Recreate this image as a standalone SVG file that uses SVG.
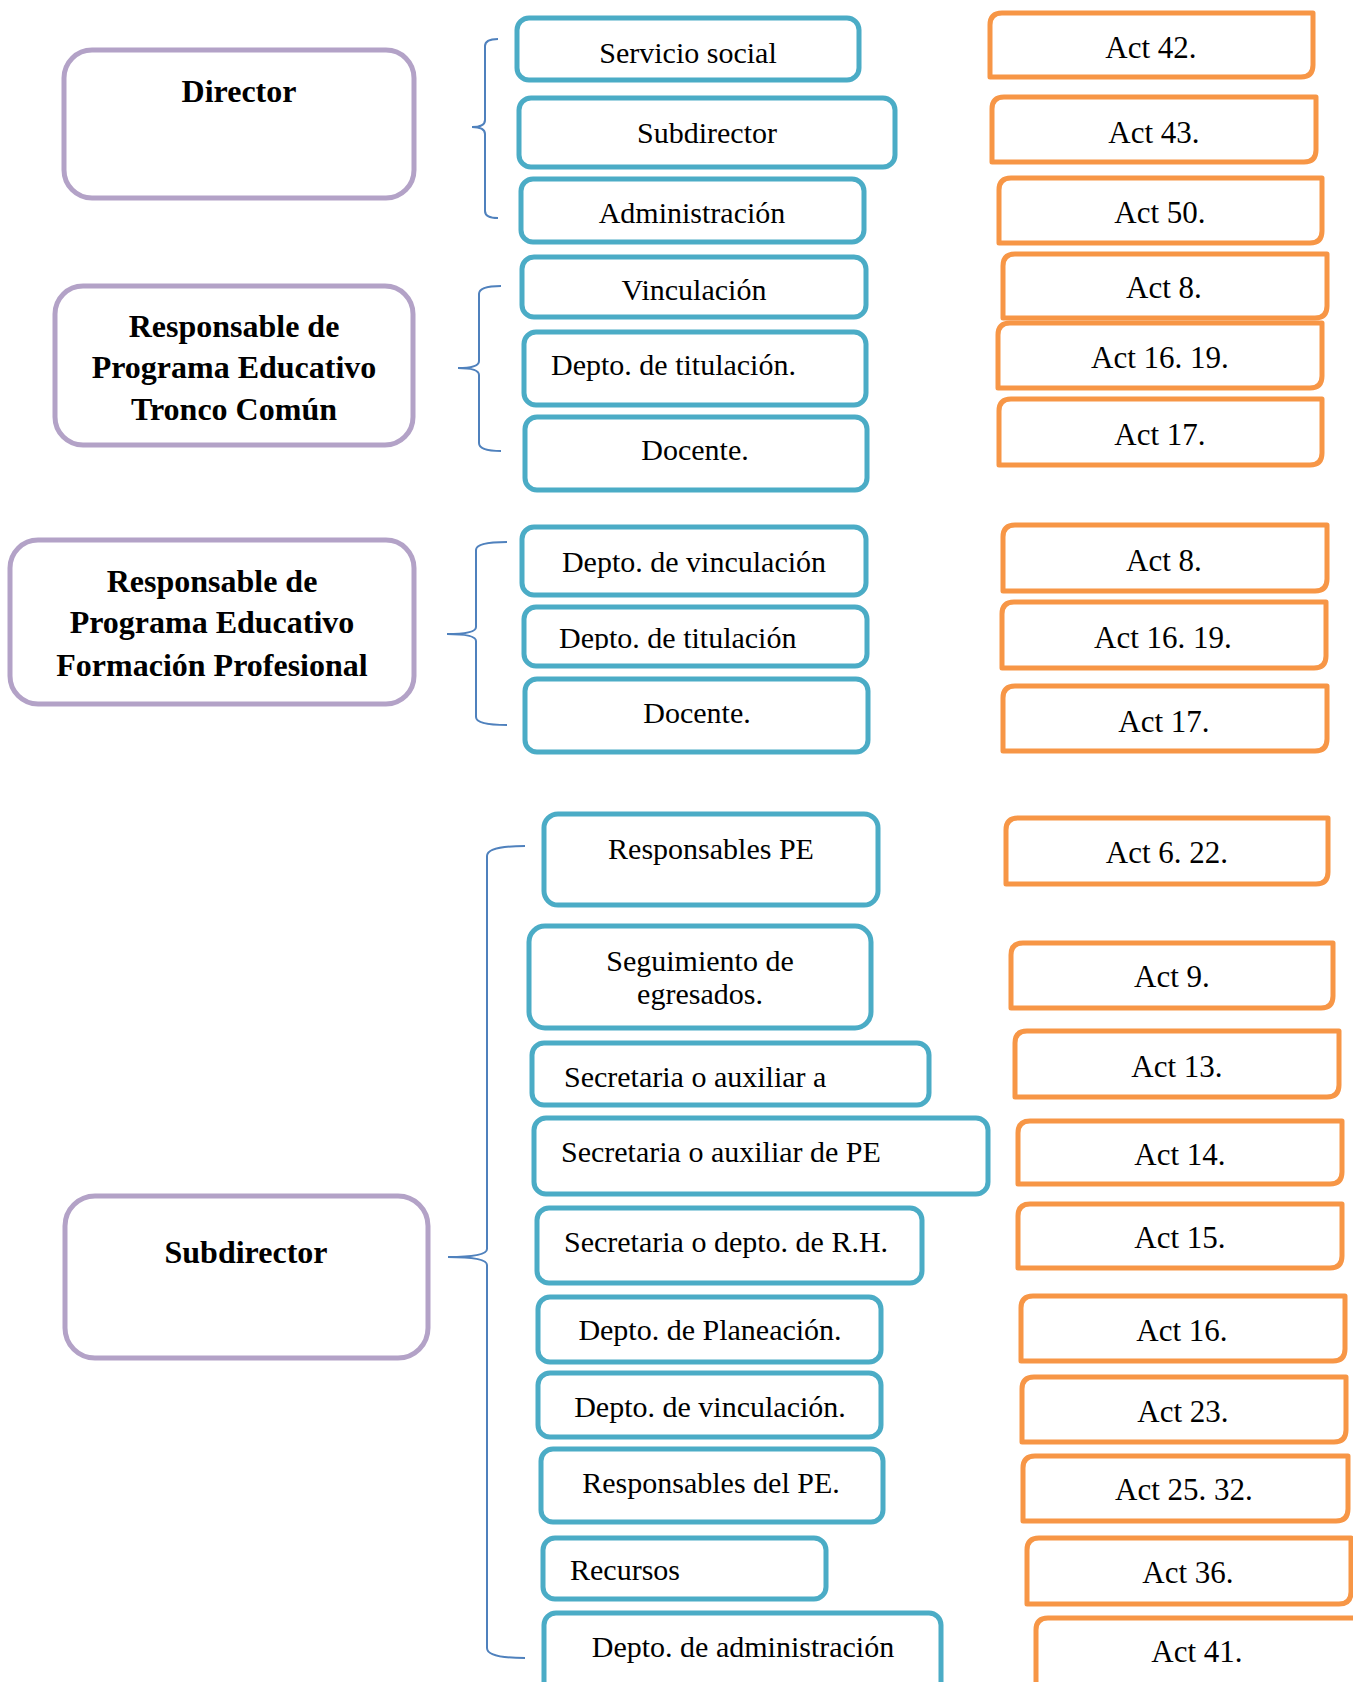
<svg xmlns="http://www.w3.org/2000/svg" width="1353" height="1682" viewBox="0 0 1353 1682">
  <defs>
    <style>
      .role { fill: #fff; stroke: #B3A2C7; stroke-width: 5; }
      .unit { fill: #fff; stroke: #4BACC6; stroke-width: 5; }
      .act { fill: #fff; stroke: #F79646; stroke-width: 5; stroke-linejoin: round; }
      .brace { fill: none; stroke: #4F81BD; stroke-width: 2; }
      .rt { font-family: "Liberation Serif", "Times New Roman", serif; font-weight: bold; font-size: 32px; fill: #000; text-anchor: middle; }
      .ut { font-family: "Liberation Serif", "Times New Roman", serif; font-size: 30px; fill: #000; }
      .at { font-family: "Liberation Serif", "Times New Roman", serif; font-size: 31px; fill: #000; text-anchor: middle; }
      .c { text-anchor: middle; }
    </style>
    <clipPath id="clip-titulacion2">
      <rect x="524" y="607" width="343" height="43"/>
    </clipPath>
  </defs>

  <rect width="1353" height="1682" fill="#fff"/>

  <!-- Braces linking each role to its units -->
  <g id="connectors">
    <path class="brace" d="M498,39 Q485,39 485,46 L485,120 Q485,127 472,127 Q485,127 485,134 L485,211 Q485,218 498,218"/>
    <path class="brace" d="M501,286 Q479,286 479,294 L479,361 Q479,368 458,368 Q479,368 479,375 L479,443 Q479,451 501,451"/>
    <path class="brace" d="M507,542 Q476,542 476,550 L476,627 Q476,634 447,634 Q476,634 476,641 L476,717 Q476,725 507,725"/>
    <path class="brace" d="M525,846 Q487,846 487,856 L487,1249 Q487,1257 448,1257 Q487,1257 487,1265 L487,1648 Q487,1658 525,1658"/>
  </g>

  <!-- Roles -->
  <g id="director">
    <rect class="role" x="64" y="50" width="350" height="148" rx="28"/>
    <text class="rt" x="239" y="102">Director</text>
  </g>
  <g id="responsable-tronco-comun">
    <rect class="role" x="55" y="286" width="358" height="159" rx="28"/>
    <text class="rt" x="234" y="337">Responsable de</text>
    <text class="rt" x="234" y="378">Programa Educativo</text>
    <text class="rt" x="234" y="420">Tronco Común</text>
  </g>
  <g id="responsable-formacion-profesional">
    <rect class="role" x="10" y="540" width="404" height="164" rx="28"/>
    <text class="rt" x="212" y="592">Responsable de</text>
    <text class="rt" x="212" y="633">Programa Educativo</text>
    <text class="rt" x="212" y="676">Formación Profesional</text>
  </g>
  <g id="subdirector">
    <rect class="role" x="65" y="1196" width="363" height="162" rx="30"/>
    <text class="rt" x="246" y="1263">Subdirector</text>
  </g>

  <!-- Units -->
  <g id="servicio-social">
    <rect class="unit" x="517" y="18" width="342" height="62" rx="12"/>
    <text class="ut c" x="688" y="63">Servicio social</text>
  </g>
  <g id="subdirector-unit">
    <rect class="unit" x="519" y="98" width="376" height="69" rx="12"/>
    <text class="ut c" x="707" y="143">Subdirector</text>
  </g>
  <g id="administracion">
    <rect class="unit" x="521" y="179" width="343" height="63" rx="12"/>
    <text class="ut c" x="692" y="223">Administración</text>
  </g>
  <g id="vinculacion">
    <rect class="unit" x="522" y="257" width="344" height="60" rx="12"/>
    <text class="ut c" x="694" y="300">Vinculación</text>
  </g>
  <g id="titulacion-1">
    <rect class="unit" x="524" y="332" width="342" height="73" rx="12"/>
    <text class="ut" x="551" y="375">Depto. de titulación.</text>
  </g>
  <g id="docente-1">
    <rect class="unit" x="525" y="417" width="342" height="73" rx="12"/>
    <text class="ut c" x="695" y="460">Docente.</text>
  </g>
  <g id="vinculacion-2">
    <rect class="unit" x="522" y="527" width="344" height="68" rx="12"/>
    <text class="ut c" x="694" y="572">Depto. de vinculación</text>
  </g>
  <g id="titulacion-2">
    <rect class="unit" x="524" y="607" width="343" height="59" rx="12"/>
    <text class="ut" x="559" y="648" clip-path="url(#clip-titulacion2)">Depto. de titulación</text>
  </g>
  <g id="docente-2">
    <rect class="unit" x="525" y="679" width="343" height="73" rx="12"/>
    <text class="ut c" x="697" y="723">Docente.</text>
  </g>
  <g id="responsables-pe">
    <rect class="unit" x="544" y="814" width="334" height="91" rx="14"/>
    <text class="ut c" x="711" y="859">Responsables PE</text>
  </g>
  <g id="seguimiento-egresados">
    <rect class="unit" x="529" y="926" width="342" height="102" rx="16"/>
    <text class="ut c" x="700" y="971">Seguimiento de</text>
    <text class="ut c" x="700" y="1004">egresados.</text>
  </g>
  <g id="secretaria-auxiliar-a">
    <rect class="unit" x="532" y="1043" width="397" height="62" rx="12"/>
    <text class="ut" x="564" y="1087">Secretaria o auxiliar a</text>
  </g>
  <g id="secretaria-auxiliar-pe">
    <rect class="unit" x="534" y="1118" width="454" height="76" rx="12"/>
    <text class="ut" x="561" y="1162">Secretaria o auxiliar de PE</text>
  </g>
  <g id="secretaria-rh">
    <rect class="unit" x="537" y="1208" width="385" height="75" rx="12"/>
    <text class="ut" x="564" y="1252">Secretaria o depto. de R.H.</text>
  </g>
  <g id="planeacion">
    <rect class="unit" x="538" y="1297" width="343" height="65" rx="12"/>
    <text class="ut c" x="710" y="1340">Depto. de Planeación.</text>
  </g>
  <g id="vinculacion-3">
    <rect class="unit" x="538" y="1373" width="343" height="64" rx="12"/>
    <text class="ut c" x="710" y="1417">Depto. de vinculación.</text>
  </g>
  <g id="responsables-del-pe">
    <rect class="unit" x="541" y="1449" width="342" height="73" rx="12"/>
    <text class="ut c" x="711" y="1493">Responsables del PE.</text>
  </g>
  <g id="recursos">
    <rect class="unit" x="543" y="1538" width="283" height="61" rx="12"/>
    <text class="ut" x="570" y="1580">Recursos</text>
  </g>
  <g id="administracion-2">
    <rect class="unit" x="544" y="1613" width="397" height="90" rx="12"/>
    <text class="ut c" x="743" y="1657">Depto. de administración</text>
  </g>

  <!-- Activities: rounded top-left and bottom-right corners -->
  <g id="act-42">
    <path class="act" d="M1002,13 H1313 V65 Q1313,77 1301,77 H990 V25 Q990,13 1002,13 Z"/>
    <text class="at" x="1151" y="58">Act 42.</text>
  </g>
  <g id="act-43">
    <path class="act" d="M1004,97 H1316 V150 Q1316,162 1304,162 H992 V109 Q992,97 1004,97 Z"/>
    <text class="at" x="1154" y="143">Act 43.</text>
  </g>
  <g id="act-50">
    <path class="act" d="M1011,178 H1322 V231 Q1322,243 1310,243 H999 V190 Q999,178 1011,178 Z"/>
    <text class="at" x="1160" y="223">Act 50.</text>
  </g>
  <g id="act-8-a">
    <path class="act" d="M1015,254 H1327 V306 Q1327,318 1315,318 H1003 V266 Q1003,254 1015,254 Z"/>
    <text class="at" x="1164" y="298">Act 8.</text>
  </g>
  <g id="act-16-19-a">
    <path class="act" d="M1010,323 H1322 V376 Q1322,388 1310,388 H998 V335 Q998,323 1010,323 Z"/>
    <text class="at" x="1160" y="368">Act 16. 19.</text>
  </g>
  <g id="act-17-a">
    <path class="act" d="M1011,399 H1322 V453 Q1322,465 1310,465 H999 V411 Q999,399 1011,399 Z"/>
    <text class="at" x="1160" y="445">Act 17.</text>
  </g>
  <g id="act-8-b">
    <path class="act" d="M1015,525 H1327 V579 Q1327,591 1315,591 H1003 V537 Q1003,525 1015,525 Z"/>
    <text class="at" x="1164" y="571">Act 8.</text>
  </g>
  <g id="act-16-19-b">
    <path class="act" d="M1014,602 H1326 V656 Q1326,668 1314,668 H1002 V614 Q1002,602 1014,602 Z"/>
    <text class="at" x="1163" y="648">Act 16. 19.</text>
  </g>
  <g id="act-17-b">
    <path class="act" d="M1015,686 H1327 V739 Q1327,751 1315,751 H1003 V698 Q1003,686 1015,686 Z"/>
    <text class="at" x="1164" y="732">Act 17.</text>
  </g>
  <g id="act-6-22">
    <path class="act" d="M1018,818 H1328 V872 Q1328,884 1316,884 H1006 V830 Q1006,818 1018,818 Z"/>
    <text class="at" x="1167" y="863">Act 6. 22.</text>
  </g>
  <g id="act-9">
    <path class="act" d="M1023,943 H1333 V996 Q1333,1008 1321,1008 H1011 V955 Q1011,943 1023,943 Z"/>
    <text class="at" x="1172" y="987">Act 9.</text>
  </g>
  <g id="act-13">
    <path class="act" d="M1027,1031 H1339 V1085 Q1339,1097 1327,1097 H1015 V1043 Q1015,1031 1027,1031 Z"/>
    <text class="at" x="1177" y="1077">Act 13.</text>
  </g>
  <g id="act-14">
    <path class="act" d="M1030,1121 H1342 V1172 Q1342,1184 1330,1184 H1018 V1133 Q1018,1121 1030,1121 Z"/>
    <text class="at" x="1180" y="1165">Act 14.</text>
  </g>
  <g id="act-15">
    <path class="act" d="M1030,1204 H1342 V1256 Q1342,1268 1330,1268 H1018 V1216 Q1018,1204 1030,1204 Z"/>
    <text class="at" x="1180" y="1248">Act 15.</text>
  </g>
  <g id="act-16">
    <path class="act" d="M1033,1296 H1345 V1349 Q1345,1361 1333,1361 H1021 V1308 Q1021,1296 1033,1296 Z"/>
    <text class="at" x="1182" y="1341">Act 16.</text>
  </g>
  <g id="act-23">
    <path class="act" d="M1034,1377 H1346 V1430 Q1346,1442 1334,1442 H1022 V1389 Q1022,1377 1034,1377 Z"/>
    <text class="at" x="1183" y="1422">Act 23.</text>
  </g>
  <g id="act-25-32">
    <path class="act" d="M1035,1456 H1348 V1509 Q1348,1521 1336,1521 H1023 V1468 Q1023,1456 1035,1456 Z"/>
    <text class="at" x="1184" y="1500">Act 25. 32.</text>
  </g>
  <g id="act-36">
    <path class="act" d="M1039,1538 H1351 V1592 Q1351,1604 1339,1604 H1027 V1550 Q1027,1538 1039,1538 Z"/>
    <text class="at" x="1188" y="1583">Act 36.</text>
  </g>
  <g id="act-41">
    <path class="act" d="M1048,1618 H1360 V1690 H1036 V1630 Q1036,1618 1048,1618 Z"/>
    <text class="at" x="1197" y="1662">Act 41.</text>
  </g>
</svg>
